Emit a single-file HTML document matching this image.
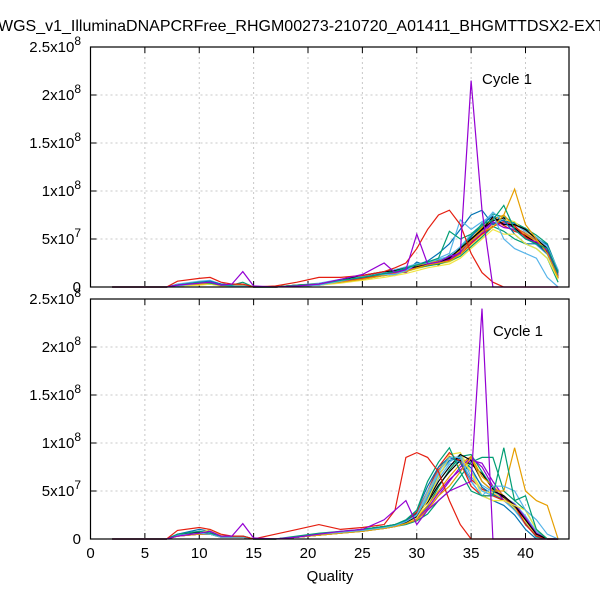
<!DOCTYPE html>
<html><head><meta charset="utf-8"><style>
body{margin:0;background:#fff}
svg{display:block;font-family:"Liberation Sans",sans-serif}
</style></head><body>
<svg id="chart" width="600" height="600" viewBox="0 0 600 600" xmlns="http://www.w3.org/2000/svg">
<text x="-2" y="31" font-size="16" fill="#000">WGS_v1_IlluminaDNAPCRFree_RHGM00273-210720_A01411_BHGMTTDSX2-EXT</text>
<g id="panels"></g>
<text x="330" y="581" font-size="15" text-anchor="middle">Quality</text>
</svg>
<script>
const quality = [2,7,8,10,11,12,13,14,15,17,19,21,23,25,27,28,29,30,31,32,33,34,35,36,37,38,39,40,41,42,43];
const xTicks = [0,5,10,15,20,25,30,35,40];
const yTicks = [0,5,10,15,20,25]; // units of 1e7
const yTickMant = ["0","5x10","1x10","1.5x10","2x10","2.5x10"];
const yTickExp = ["","7","8","8","8","8"];
const colors = ["#9400d3","#e51e10","#009e73","#56b4e9","#e69f00","#f0e442","#0072b2","#000000"];
const topSeries = [
[0,0,.2,.4,.5,.2,.3,1.6,.1,0,.1,.3,.8,1.3,2.5,1.5,1.8,5.5,2.4,2.6,3.2,3.5,21.5,8,0,0,0,0,0,0,0],
[0,0,.6,.9,1,.5,.3,.3,0,.1,.5,1,1,1.2,1.6,2,2.5,4,6,7.5,8,6.5,3.5,1.5,.5,0,0,0,0,0,0],
[0,0,.2,.5,.4,.2,.2,.5,0,0,.2,.3,.7,1,1.4,1.6,2,2.3,2.6,3,5.8,5,5.5,6.5,7,8.5,6,5,4.5,4,1.5],
[0,0,.1,.4,.5,.2,.1,.1,0,0,.1,.2,.6,1.1,1.3,1.3,1.7,2.4,2.5,3,3.5,7,6,6.8,7.5,5,4,3.5,3,1,0],
[0,0,.2,.3,.4,.2,.2,.2,0,0,.2,.3,.5,.8,1.2,1.4,1.6,2,2.3,2.5,2.7,3.4,4.8,5.8,6.2,7.5,10.2,6.5,5,3.5,1],
[0,0,.1,.2,.3,.1,.1,.1,0,0,.1,.2,.4,.7,1,1.2,1.4,1.7,2,2.2,2.4,3,4,5,6,5.5,5.5,4.5,4,3,.8],
[0,0,.2,.5,.6,.3,.2,.2,0,0,.1,.3,.7,1,1.4,1.6,1.9,2.3,2.7,3.5,4.5,6,7.5,8,6.5,7,5.5,4.5,4.5,3.5,1.2],
[0,0,.2,.4,.5,.3,.2,.2,0,0,.2,.3,.7,1.2,1.6,1.7,2,2.1,2.3,2.6,3,4,5,6,7.3,6.5,6.5,6,5,4,1.5],
[0,0,.2,.4,.4,.2,.2,.2,0,0,.1,.3,.6,1,1.4,1.5,1.8,2.1,2.4,2.6,2.9,3.6,4.8,5.8,6.8,6.2,6,5,4.7,3.8,1.2],
[0,0,.1,.3,.4,.2,.2,.2,0,0,.1,.3,.6,.9,1.3,1.4,1.7,2,2.3,2.5,2.8,3.4,4.5,5.5,6.3,6.8,6.4,5.2,4.5,3.5,1.1],
[0,0,.1,.3,.3,.2,.1,.1,0,0,.1,.2,.5,.8,1.2,1.4,1.6,2,2.2,2.4,2.7,3.2,4.2,5.2,6.3,5.8,5,4.5,4,3,.5],
[0,0,.3,.6,.7,.3,.2,.3,0,0,.2,.4,.8,1.2,1.5,1.8,2.1,2.4,2.6,2.9,3.2,4.2,5.5,6.5,7.8,6.8,6.5,5.8,5.2,4.2,1.8],
[0,0,.2,.4,.5,.2,.2,.2,0,0,.1,.3,.6,1,1.3,1.5,1.8,2.2,2.5,2.7,3,3.8,5,6.2,7,7.5,6.3,5.5,4.8,3.8,1.3],
[0,0,.2,.3,.4,.2,.1,.1,0,0,.1,.3,.5,.9,1.2,1.3,1.6,1.9,2.2,2.4,2.6,3.2,4.3,5.3,6.5,7,6.8,5.7,5,4,1.5],
[0,0,.2,.4,.5,.2,.2,.2,0,0,.2,.3,.6,1,1.5,1.8,1.6,2.6,2.2,2.8,2.7,3.6,5.2,6.6,7.4,6.9,6.6,5.9,5.1,4.4,1.6],
[0,0,.1,.3,.4,.2,.2,.2,0,0,.1,.3,.6,1.1,1.3,1.2,1.9,2.2,2.6,2.3,3.1,3.9,4.9,6,6.9,7.2,6.1,5.3,4.6,3.6,1],
[0,0,.2,.4,.4,.2,.2,.2,0,0,.1,.2,.5,.9,1.4,1.6,1.5,2.4,2.3,2.7,2.9,3.7,4.6,5.6,6.6,6.6,6.2,5.6,4.9,4.1,1.4],
[0,0,.2,.3,.4,.2,.1,.1,0,0,.1,.3,.6,1,1.2,1.5,1.7,2.1,2.5,2.5,3.1,3.5,4.7,6.1,7.1,6.4,5.8,5.4,4.6,3.7,.9],
[0,0,.1,.3,.3,.2,.2,.2,0,0,.1,.2,.5,.8,1.3,1.4,1.8,2,2.4,2.6,3.3,4.1,5.3,6.3,7.6,7.3,6.7,6.1,5.4,4.5,1.7],
[0,0,.2,.4,.5,.2,.2,.2,0,0,.1,.3,.6,1,1.3,1.6,1.9,2.3,2.4,2.8,3,3.7,4.9,5.9,6.7,6.7,6.1,5.1,4.4,3.4,1]
];
const bottomSeries = [
[0,0,.3,.6,.8,.3,.3,1.6,.1,0,.2,.5,.8,1,2,3,4,1.5,3,4,5,5.5,6,24,0,0,0,0,0,0,0],
[0,0,.9,1.2,1,.5,.3,.3,0,.5,1,1.5,1,1.2,1.5,3,8.5,9,8.5,7,4,1.5,0,0,0,0,0,0,0,0,0],
[0,0,.5,.8,.6,.3,.3,.3,0,0,.3,.6,.8,1,1.3,1.5,2,3,6,8,9.5,7,5,4.5,4.5,9.5,4,4.5,1,0,0],
[0,0,.4,.6,.5,.2,.2,.2,0,0,.2,.5,.7,.9,1.2,1.4,1.8,2.5,5,7,8.5,8.5,6,4.5,5.5,5.5,5,3,2,.5,0],
[0,0,.3,.5,.5,.2,.2,.2,0,0,.2,.4,.6,.8,1.1,1.3,1.6,2,3,4.5,5.5,7,8.5,6,5,5,9.5,5,4,3.5,0],
[0,0,.3,.6,1,.4,.2,.2,0,0,.2,.4,.6,.8,1.1,1.3,1.6,2.2,4,6.5,8.5,8.5,7,4.5,4,4,3.5,3,1,0,0],
[0,0,.5,1,.8,.3,.3,.3,0,0,.2,.5,.7,1,1.3,1.5,1.9,3,5.5,7.5,8.5,8,6,4.5,4,3.5,2.5,1,0,0,0],
[0,0,.4,.7,.6,.3,.2,.2,0,0,.2,.4,.7,.9,1.2,1.4,1.7,2.3,4,6,7.5,8.8,8.2,6,5,4.5,3.5,2,.5,0,0],
[0,0,.3,.5,.5,.2,.2,.2,0,0,.2,.4,.6,.9,1.1,1.3,1.6,2,3,4.5,6,7.5,8.5,7.5,5.5,4,3.5,2,.5,0,0],
[0,0,.4,.6,.6,.3,.2,.2,0,0,.2,.5,.7,1,1.3,1.5,1.9,2.8,5,7.5,9,8,5.5,4.5,4.5,4,3.5,1.5,.3,0,0],
[0,0,.3,.5,.5,.2,.2,.2,0,0,.2,.4,.6,.8,1.1,1.3,1.5,1.9,2.6,4,5,6.5,8,8.5,8.5,5,4,3,1,0,0],
[0,0,.5,.8,.7,.3,.3,.3,0,0,.2,.5,.7,1,1.2,1.4,1.8,2.4,4.5,6.8,8,8.8,6.5,5,4.5,4,3,1.5,.3,0,0],
[0,0,.3,.6,.6,.2,.2,.2,0,0,.2,.4,.6,.9,1.2,1.4,1.7,2.2,3.5,5,6.5,7.8,8.6,6.5,5.5,4.5,3.5,2,.5,0,0],
[0,0,.3,.5,.5,.2,.2,.2,0,0,.2,.4,.6,.9,1.2,1.4,1.7,2.5,4.8,7,8.8,9,7,5,4.8,4.2,3.2,1.8,.4,0,0],
[0,0,.3,.6,.6,.3,.2,.2,0,0,.2,.4,.7,1,1.3,1.5,1.8,2.6,4.4,6.6,8.2,8.4,7.4,5.4,4.6,4.1,3.3,1.6,.3,0,0],
[0,0,.4,.7,.7,.3,.2,.2,0,0,.2,.5,.7,1,1.2,1.4,1.9,2.7,3.8,5.6,7,8.2,7.8,6.8,5.2,4.3,3.1,1.7,.4,0,0],
[0,0,.3,.5,.5,.2,.2,.2,0,0,.2,.4,.6,.8,1.1,1.3,1.6,2.1,3.2,4.8,6.2,7.2,8.2,7.9,6,4.4,3.6,2.2,.6,0,0],
[0,0,.4,.6,.6,.3,.2,.2,0,0,.2,.4,.7,.9,1.2,1.5,1.8,2.6,4.6,7.2,8.6,8.2,6.2,5.2,4.7,4.3,3.4,1.9,.5,0,0],
[0,0,.3,.6,.6,.2,.2,.2,0,0,.2,.4,.6,.9,1.1,1.3,1.7,2.2,3.4,5.4,7.2,8.6,8.8,7,5.3,4.2,3,1.6,.2,0,0],
[0,0,.4,.6,.6,.3,.2,.2,0,0,.2,.5,.7,1,1.2,1.4,1.8,2.4,4.2,6.3,7.8,8,7,5.6,4.9,4.4,3.7,2.4,.8,0,0]
];
const NS="http://www.w3.org/2000/svg";
const X0=90.5, X1=569, XMAX=44, YMAX=25;
function xs(q){return X0+(X1-X0)*q/XMAX;}
function mk(tag,attrs,parent){const e=document.createElementNS(NS,tag);for(const k in attrs)e.setAttribute(k,attrs[k]);parent.appendChild(e);return e;}
const root=document.getElementById('panels');
function panel(top,bottom,series,name,labelX,showX){
  const g=mk('g',{},root);
  
  
  const ys=v=>bottom-(bottom-top)*v/YMAX;
  xTicks.forEach(t=>{if(t>0){const l=mk('line',{x1:xs(t),x2:xs(t),y1:top,y2:bottom,stroke:'#c8c8c8','stroke-dasharray':'2,3'},g);
    }
    mk('line',{x1:xs(t),x2:xs(t),y1:bottom,y2:bottom-6,stroke:'#000'},g);
    mk('line',{x1:xs(t),x2:xs(t),y1:top,y2:top+6,stroke:'#000'},g);
    if(showX){const tx=mk('text',{x:xs(t),y:bottom+19,'font-size':15,'text-anchor':'middle'},g);tx.textContent=t;
      }
  });
  yTicks.forEach((t,i)=>{const y=ys(t);
    if(t>0&&t<YMAX){const l=mk('line',{x1:X0,x2:X1,y1:y,y2:y,stroke:'#c8c8c8','stroke-dasharray':'2,3'},g);
      }
    mk('line',{x1:X0,x2:X0+6,y1:y,y2:y,stroke:'#000'},g);
    mk('line',{x1:X1,x2:X1-6,y1:y,y2:y,stroke:'#000'},g);
    const tx=mk('text',{x:81,y:y+5,'font-size':15,'text-anchor':'end'},g);
    
    const a=document.createElementNS(NS,'tspan');a.textContent=yTickMant[i];tx.appendChild(a);
    if(yTickExp[i]){const b=document.createElementNS(NS,'tspan');b.setAttribute('dy','-7');b.setAttribute('font-size','12');b.textContent=yTickExp[i];tx.appendChild(b);}
  });
  for(let i=series.length-1;i>=1;i--) draw(i);
  draw(0);
  function draw(i){const s=series[i];
    const p=mk('polyline',{points:quality.map((q,j)=>xs(q).toFixed(1)+','+ys(s[j]).toFixed(1)).join(' '),fill:'none',stroke:colors[i%colors.length],'stroke-width':1.2},g);
    }
  const f=mk('rect',{x:X0,y:top,width:X1-X0,height:bottom-top,fill:'none',stroke:'#000','stroke-width':1.2},g);
  
  const lb=mk('text',{x:labelX,y:top+37,'font-size':15},g);lb.textContent='Cycle 1';
  
}
panel(47,287,topSeries,'top-panel',482,false);
panel(299,539,bottomSeries,'bottom-panel',493,true);
</script>
</body></html>
